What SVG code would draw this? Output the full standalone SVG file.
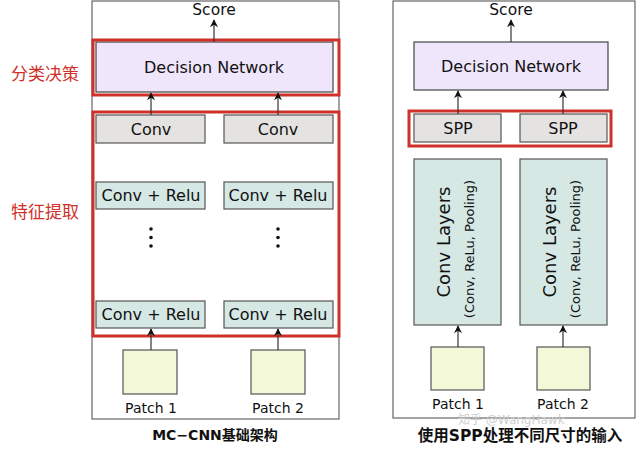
<svg xmlns="http://www.w3.org/2000/svg" width="640" height="452" viewBox="0 0 640 452">
<style>
text{font-family:"DejaVu Sans","Noto Sans CJK SC",sans-serif;fill:#111}
.panel{fill:#fff;stroke:#666;stroke-width:1.2}
.dec{fill:#efe6fb;stroke:#444;stroke-width:1.2}
.conv{fill:#e4e3e1;stroke:#555;stroke-width:1.2}
.relu{fill:#d5e8e4;stroke:#555;stroke-width:1.2}
.patch{fill:#f2f8d8;stroke:#555;stroke-width:1.2}
.red{fill:none;stroke:#d0302a;stroke-width:3}
.lbl{font-size:16px;text-anchor:middle}
.sc{font-size:15.5px;text-anchor:middle}
.sm{font-size:14px;text-anchor:middle}
.cap{font-size:14px;font-weight:bold;text-anchor:middle}
.rl{font-size:17px;fill:#d0302a}
.arr{stroke:#333;stroke-width:1.2;fill:none;marker-end:url(#ah)}
.dot{fill:#111}
</style>
<defs>
<marker id="ah" viewBox="0 0 10 10" refX="9" refY="5" markerWidth="8" markerHeight="8" orient="auto" markerUnits="userSpaceOnUse">
<path d="M0,0 L10,5 L0,10 L3,5 Z" fill="#111"/>
</marker>
</defs>
<g id="panel-left"><rect class="panel" x="92" y="1" width="247" height="418"/></g>
<g id="panel-right"><rect class="panel" x="393" y="1" width="242" height="417"/></g>

<g id="score-left"><text class="sc" x="214" y="15">Score</text></g>
<g id="decision-left"><rect class="dec" x="96" y="42" width="237" height="50"/><text class="lbl" x="214" y="73">Decision Network</text></g>
<g id="conv-l1"><rect class="conv" x="96" y="115" width="109" height="28"/><text class="lbl" x="151" y="135">Conv</text></g>
<g id="conv-l2"><rect class="conv" x="224" y="115" width="109" height="28"/><text class="lbl" x="278" y="135">Conv</text></g>
<g id="relu-l1a"><rect class="relu" x="96" y="182" width="109" height="27"/><text class="lbl" x="151" y="201">Conv + Relu</text></g>
<g id="relu-l2a"><rect class="relu" x="224" y="182" width="109" height="27"/><text class="lbl" x="278" y="201">Conv + Relu</text></g>
<g id="dots-l1"><circle class="dot" cx="151" cy="229" r="1.8"/><circle class="dot" cx="151" cy="237.5" r="1.8"/><circle class="dot" cx="151" cy="246" r="1.8"/></g>
<g id="dots-l2"><circle class="dot" cx="278" cy="229" r="1.8"/><circle class="dot" cx="278" cy="237.5" r="1.8"/><circle class="dot" cx="278" cy="246" r="1.8"/></g>
<g id="relu-l1b"><rect class="relu" x="96" y="301" width="109" height="27"/><text class="lbl" x="151" y="320">Conv + Relu</text></g>
<g id="relu-l2b"><rect class="relu" x="224" y="301" width="109" height="27"/><text class="lbl" x="278" y="320">Conv + Relu</text></g>
<g id="patch-l1"><rect class="patch" x="123" y="350" width="54" height="44"/><text class="sm" x="151" y="413">Patch 1</text></g>
<g id="patch-l2"><rect class="patch" x="251" y="350" width="54" height="44"/><text class="sm" x="278" y="413">Patch 2</text></g>
<g id="highlight-left">
<rect class="red" x="93" y="40" width="246" height="55"/>
<rect class="red" x="93" y="112" width="246" height="224"/>
<text class="rl" x="11" y="80">分类决策</text>
<text class="rl" x="11" y="218">特征提取</text>
</g>
<g id="caption-left"><text class="cap" x="215" y="440">MC−CNN基础架构</text></g>

<g id="score-right"><text class="sc" x="511" y="15">Score</text></g>
<g id="decision-right"><rect class="dec" x="414" y="42" width="194" height="48"/><text class="lbl" x="511" y="72">Decision Network</text></g>
<g id="spp-r1"><rect class="conv" x="414" y="114" width="87" height="28"/><text class="lbl" x="458" y="134">SPP</text></g>
<g id="spp-r2"><rect class="conv" x="520" y="114" width="87" height="28"/><text class="lbl" x="563" y="134">SPP</text></g>
<g id="highlight-right"><rect class="red" x="409" y="111" width="202" height="35"/></g>
<g id="convlayers-r1"><rect class="relu" x="414" y="159" width="87" height="166"/>
<text transform="translate(450,242) rotate(-90)" font-size="18" text-anchor="middle">Conv Layers</text>
<text transform="translate(474,249) rotate(-90)" font-size="13" text-anchor="middle">(Conv, ReLu, Pooling)</text></g>
<g id="convlayers-r2"><rect class="relu" x="520" y="159" width="87" height="166"/>
<text transform="translate(556,242) rotate(-90)" font-size="18" text-anchor="middle">Conv Layers</text>
<text transform="translate(580,249) rotate(-90)" font-size="13" text-anchor="middle">(Conv, ReLu, Pooling)</text></g>
<g id="patch-r1"><rect class="patch" x="431" y="347" width="53" height="43"/><text class="sm" x="458" y="409">Patch 1</text></g>
<g id="patch-r2"><rect class="patch" x="537" y="347" width="53" height="43"/><text class="sm" x="563" y="409">Patch 2</text></g>
<g id="caption-right"><text class="cap" x="520" y="441" style="font-size:15.5px">使用SPP处理不同尺寸的输入</text></g>
<g id="watermark"><text x="458" y="424" font-size="12" style="fill:#cfcfcf">知乎 @WangHawk</text></g>

<g id="connectors">
<line class="arr" x1="214" y1="42" x2="214" y2="20"/>
<line class="arr" x1="151" y1="115" x2="151" y2="93"/>
<line class="arr" x1="278" y1="115" x2="278" y2="93"/>
<line class="arr" x1="151" y1="350" x2="151" y2="329"/>
<line class="arr" x1="278" y1="350" x2="278" y2="329"/>
<line class="arr" x1="511" y1="42" x2="511" y2="20"/>
<line class="arr" x1="458" y1="114" x2="458" y2="91"/>
<line class="arr" x1="563" y1="114" x2="563" y2="91"/>
<line class="arr" x1="458" y1="347" x2="458" y2="326"/>
<line class="arr" x1="563" y1="347" x2="563" y2="326"/>
</g>
</svg>
